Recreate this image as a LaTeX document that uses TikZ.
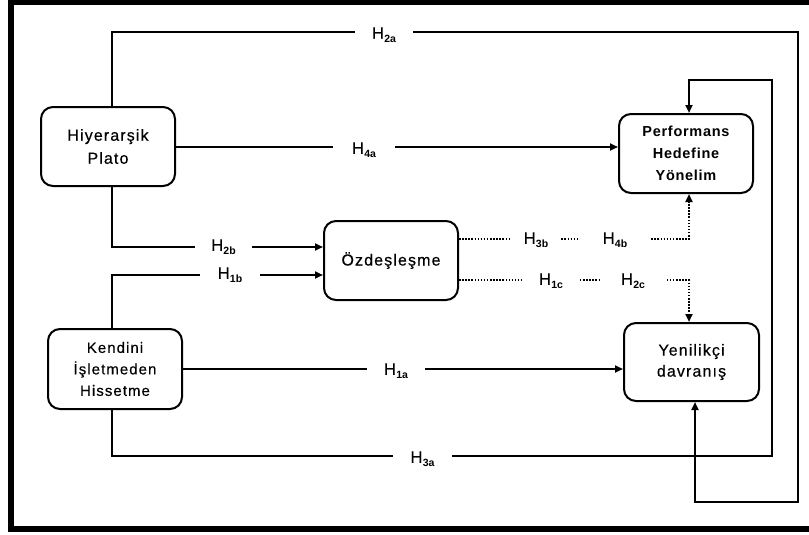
\documentclass[tikz,border=0pt]{standalone}
\usepackage{fontspec}
\setmainfont[FakeBold=0.4]{Liberation Sans}
\newfontfamily\spaced[LetterSpace=7,FakeBold=0.4]{Liberation Sans}
\newfontfamily\spacedb[LetterSpace=5]{Liberation Sans Bold}
\newfontfamily\subf{Liberation Sans Bold}
\usetikzlibrary{arrows.meta,calc}
\newcommand\hh[1]{H\kern0.3pt\raisebox{-4pt}{\subf\fontsize{10.5}{10.5}\selectfont #1}}
\begin{document}
\begin{tikzpicture}[x=1pt,y=-1pt,
  box/.style={draw, line width=2pt, rounded corners=12pt, align=center, inner sep=0pt},
  conn/.style={line width=2pt},
  arr/.style={conn, -{Triangle[length=8pt,width=7pt]}},
  dotline/.style={line width=2pt, dash pattern=on 1.5pt off 1.6pt},
  dotarr/.style={dotline, -{Triangle[length=8pt,width=7pt]}},
  lab/.style={fill=white, inner xsep=0pt, inner ysep=3pt, text height=11.5pt, text depth=0pt,
              font=\fontsize{16.5}{16.5}\selectfont}
]
\useasboundingbox (0,0) rectangle (809,535);
% frame
\fill (8,0) rectangle (809,5);
\fill (8,0) rectangle (14,532);
\fill (8,526) rectangle (809,532);

% boxes
\node[box, minimum width=134pt, minimum height=79pt,
      font=\spaced\fontsize{16}{23}\selectfont] (hp) at (108,146.5) {Hiyerarşik\\Plato};
\node[box, minimum width=134pt, minimum height=80pt,
      font=\spaced\fontsize{15}{21.5}\selectfont] (kh) at (115,369) {Kendini\\İşletmeden\\Hissetme};
\node[box, minimum width=134pt, minimum height=79pt,
      font=\spaced\fontsize{16}{23}\selectfont] (oz) at (391,260.5) {Özdeşleşme};
\node[box, minimum width=134pt, minimum height=79pt,
      font=\spacedb\fontsize{14.5}{22}\selectfont] (pf) at (686,153.5) {Performans\\Hedefine\\Yönelim};
\node[box, minimum width=135pt, minimum height=78pt,
      font=\spaced\fontsize{16}{21}\selectfont] (yd) at (691.5,362) {Yenilikçi\\davranış};

% bend coordinates
\coordinate (tr) at (798,32);
\coordinate (br) at (798,502);
\coordinate (ir) at (772,456);
\coordinate (it) at (772,80);

% connectors
\draw[arr] ($(hp.north)+(4,0)$) |- (tr) -- (br) -| ($(yd.south)+(3.5,0)$);
\draw[arr] ($(kh.south)+(-3,0)$) |- (ir) -- (it) -| ($(pf.north)+(3,0)$);
\draw[arr] (hp.east |- 0,147) -- (pf.west |- 0,147);
\draw[arr] ($(hp.south)+(4,0)$) |- ($(oz.west)+(0,-13.5)$);
\draw[arr] ($(kh.north)+(-3,0)$) |- ($(oz.west)+(0,14.5)$);
\draw[arr] (kh.east) -- (kh.east -| yd.west);
\draw[dotarr] ($(oz.east)+(0,-21.5)$) -| ($(pf.south)+(3,0)$);
\draw[dotarr] ($(oz.east)+(0,19.5)$) -| ($(yd.north)+(-2.5,0)$);

% labels
\node[lab, minimum width=58pt] (l2a) at (384,33) {\hh{2a}};
\node[lab, minimum width=62pt] (l4a) at (364,148) {\hh{4a}};
\node[lab, minimum width=57pt] (l2b) at (223.5,245) {\hh{2b}};
\node[lab, minimum width=60pt] (l1b) at (230,273) {\hh{1b}};
\node[lab, minimum width=58pt] (l1a) at (396,369) {\hh{1a}};
\node[lab, minimum width=59pt] (l3a) at (422.5,457) {\hh{3a}};
\node[lab, minimum width=48pt] (l3b) at (536,238) {\hh{3b}};
\node[lab, minimum width=72pt] (l4b) at (615,238) {\hh{4b}};
\node[lab, minimum width=58pt] (l1c) at (551,279) {\hh{1c}};
\node[lab, minimum width=67pt] (l2c) at (633,279) {\hh{2c}};
\end{tikzpicture}
\end{document}
